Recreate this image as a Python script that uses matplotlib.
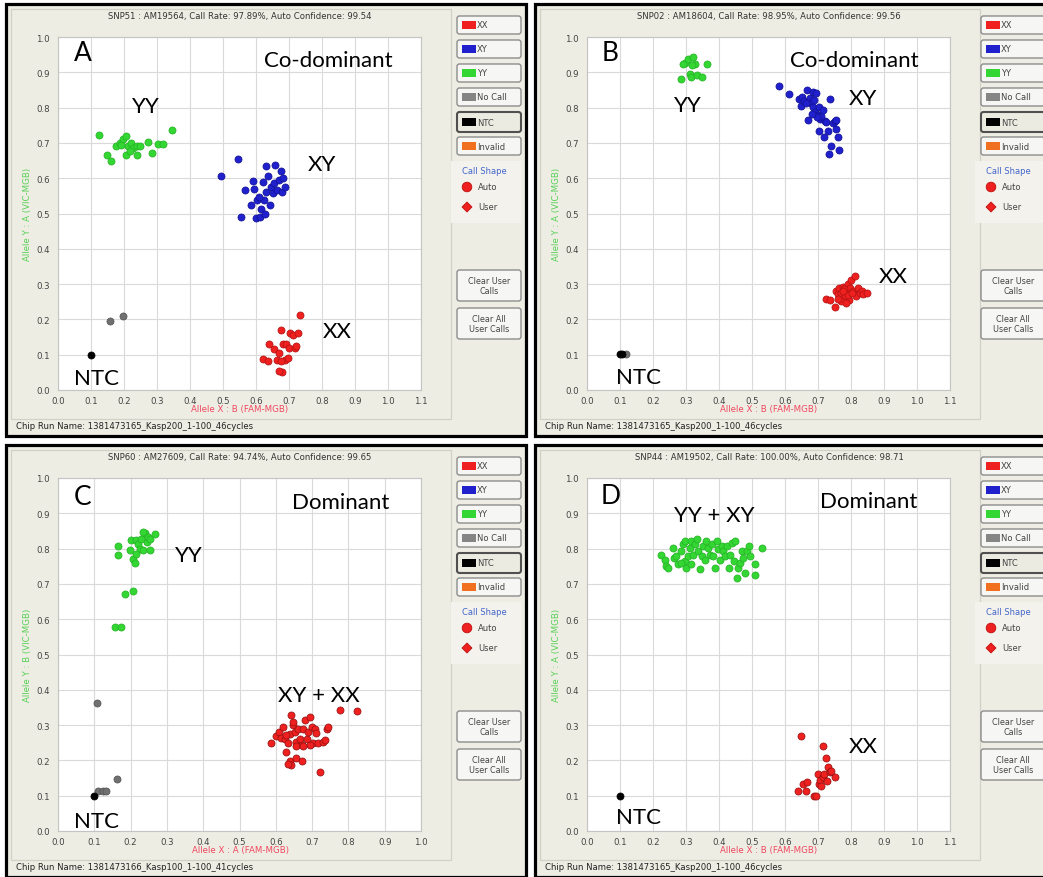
import matplotlib
matplotlib.use("Agg")
import matplotlib.pyplot as plt
from matplotlib.patches import Rectangle, FancyBboxPatch, Circle, Polygon
import numpy as np

# ---------------- data ----------------
# Panel A  (SNP51)
A_YY_X = [0.123, 0.149, 0.161, 0.177, 0.187, 0.197, 0.207, 0.212, 0.222, 0.228, 0.238,
          0.238, 0.207, 0.248, 0.273, 0.286, 0.304, 0.319, 0.345, 0.217, 0.192]
A_YY_Y = [0.721, 0.667, 0.650, 0.690, 0.700, 0.710, 0.719, 0.690, 0.700, 0.686, 0.690,
          0.667, 0.667, 0.690, 0.702, 0.671, 0.698, 0.698, 0.736, 0.676, 0.695]
A_XY_X = [0.493, 0.545, 0.556, 0.567, 0.585, 0.590, 0.595, 0.600, 0.602, 0.612, 0.615,
          0.620, 0.623, 0.629, 0.631, 0.636, 0.641, 0.646, 0.651, 0.656, 0.659, 0.663,
          0.671, 0.677, 0.680, 0.682, 0.687, 0.626, 0.610]
A_XY_Y = [0.607, 0.654, 0.490, 0.567, 0.524, 0.593, 0.569, 0.486, 0.538, 0.490, 0.514,
          0.590, 0.538, 0.635, 0.562, 0.605, 0.524, 0.576, 0.557, 0.586, 0.638, 0.567,
          0.595, 0.619, 0.562, 0.600, 0.576, 0.500, 0.548]
A_XX_X = [0.620, 0.636, 0.638, 0.656, 0.663, 0.669, 0.677, 0.680, 0.682, 0.687, 0.690,
          0.697, 0.700, 0.702, 0.712, 0.717, 0.722, 0.728, 0.733, 0.677, 0.671]
A_XX_Y = [0.089, 0.083, 0.130, 0.117, 0.086, 0.105, 0.171, 0.052, 0.130, 0.086, 0.129,
          0.092, 0.119, 0.162, 0.157, 0.119, 0.124, 0.162, 0.212, 0.081, 0.054]
A_NC_X = [0.159, 0.197]
A_NC_Y = [0.195, 0.211]
A_NTC_X = [0.100]
A_NTC_Y = [0.100]

# Panel B  (SNP02)
B_YY_X = [0.284, 0.296, 0.306, 0.311, 0.316, 0.321, 0.327, 0.332, 0.347, 0.365, 0.291, 0.318]
B_YY_Y = [0.880, 0.926, 0.937, 0.896, 0.886, 0.943, 0.924, 0.893, 0.888, 0.923, 0.924, 0.920]
B_XY_X = [0.582, 0.612, 0.643, 0.648, 0.653, 0.658, 0.668, 0.671, 0.676, 0.679, 0.684,
          0.686, 0.689, 0.692, 0.694, 0.699, 0.702, 0.704, 0.706, 0.709, 0.714, 0.719,
          0.722, 0.724, 0.730, 0.735, 0.740, 0.745, 0.750, 0.755, 0.760, 0.765, 0.733,
          0.755, 0.696, 0.682, 0.663]
B_XY_Y = [0.861, 0.839, 0.823, 0.804, 0.831, 0.820, 0.850, 0.766, 0.826, 0.812, 0.845,
          0.802, 0.821, 0.788, 0.842, 0.779, 0.801, 0.734, 0.769, 0.776, 0.793, 0.717,
          0.763, 0.760, 0.734, 0.823, 0.690, 0.757, 0.763, 0.738, 0.717, 0.681, 0.668,
          0.765, 0.774, 0.783, 0.812]
B_XX_X = [0.724, 0.735, 0.750, 0.755, 0.760, 0.765, 0.770, 0.776, 0.781, 0.786, 0.791,
          0.794, 0.798, 0.801, 0.806, 0.811, 0.816, 0.821, 0.827, 0.832, 0.837, 0.847,
          0.770, 0.784, 0.760, 0.780, 0.790, 0.803, 0.775]
B_XX_Y = [0.259, 0.254, 0.235, 0.280, 0.271, 0.288, 0.275, 0.292, 0.266, 0.280, 0.299,
          0.256, 0.288, 0.313, 0.280, 0.323, 0.266, 0.290, 0.275, 0.280, 0.273, 0.275,
          0.252, 0.247, 0.257, 0.285, 0.270, 0.276, 0.281]
B_NC_X = [0.117]
B_NC_Y = [0.102]
B_NTC_X = [0.100, 0.107]
B_NTC_Y = [0.102, 0.102]

# Panel C  (SNP60)
C_YY_X = [0.156, 0.174, 0.184, 0.207, 0.165, 0.165, 0.198, 0.202, 0.207, 0.212, 0.216,
          0.221, 0.225, 0.230, 0.235, 0.239, 0.244, 0.249, 0.253, 0.253, 0.267, 0.235, 0.216]
C_YY_Y = [0.578, 0.578, 0.671, 0.679, 0.807, 0.781, 0.795, 0.824, 0.771, 0.759, 0.824,
          0.814, 0.800, 0.826, 0.795, 0.843, 0.819, 0.833, 0.826, 0.795, 0.841, 0.848, 0.786]
C_XX_X = [0.587, 0.601, 0.610, 0.615, 0.620, 0.624, 0.629, 0.634, 0.638, 0.640, 0.643,
          0.643, 0.647, 0.652, 0.655, 0.657, 0.661, 0.666, 0.671, 0.675, 0.680, 0.685,
          0.689, 0.694, 0.699, 0.703, 0.708, 0.712, 0.717, 0.722, 0.731, 0.736, 0.740,
          0.745, 0.777, 0.824, 0.634, 0.673, 0.657, 0.694, 0.629, 0.647, 0.675]
C_XX_Y = [0.248, 0.270, 0.281, 0.264, 0.295, 0.262, 0.224, 0.248, 0.276, 0.197, 0.186,
          0.329, 0.300, 0.281, 0.252, 0.207, 0.290, 0.262, 0.243, 0.290, 0.314, 0.262,
          0.281, 0.324, 0.295, 0.248, 0.289, 0.279, 0.248, 0.167, 0.252, 0.257, 0.290,
          0.295, 0.343, 0.340, 0.190, 0.198, 0.241, 0.243, 0.271, 0.310, 0.241]
C_NC_X = [0.108, 0.111, 0.123, 0.133, 0.163]
C_NC_Y = [0.362, 0.114, 0.114, 0.114, 0.146]
C_NTC_X = [0.100]
C_NTC_Y = [0.100]

# Panel D  (SNP44)
D_YY_X = [0.224, 0.235, 0.240, 0.245, 0.260, 0.265, 0.270, 0.276, 0.284, 0.291, 0.296,
          0.298, 0.301, 0.306, 0.311, 0.316, 0.321, 0.327, 0.332, 0.337, 0.342, 0.347,
          0.352, 0.362, 0.367, 0.372, 0.378, 0.383, 0.388, 0.393, 0.398, 0.403, 0.408,
          0.413, 0.418, 0.423, 0.429, 0.434, 0.439, 0.444, 0.449, 0.454, 0.459, 0.464,
          0.469, 0.474, 0.480, 0.485, 0.490, 0.495, 0.508, 0.510, 0.529, 0.284, 0.316, 0.357]
D_YY_Y = [0.783, 0.769, 0.750, 0.745, 0.802, 0.774, 0.779, 0.755, 0.793, 0.812, 0.821,
          0.764, 0.745, 0.779, 0.801, 0.821, 0.783, 0.812, 0.826, 0.793, 0.741, 0.779,
          0.807, 0.821, 0.802, 0.783, 0.812, 0.779, 0.745, 0.821, 0.798, 0.769, 0.807,
          0.793, 0.779, 0.807, 0.745, 0.783, 0.817, 0.764, 0.821, 0.717, 0.745, 0.760,
          0.793, 0.774, 0.731, 0.793, 0.807, 0.779, 0.726, 0.755, 0.801, 0.760, 0.755, 0.769]
D_XX_X = [0.648, 0.638, 0.655, 0.663, 0.668, 0.689, 0.694, 0.699, 0.702, 0.706, 0.709,
          0.714, 0.714, 0.719, 0.724, 0.727, 0.730, 0.735, 0.740, 0.750]
D_XX_Y = [0.269, 0.114, 0.133, 0.114, 0.140, 0.100, 0.098, 0.161, 0.133, 0.145, 0.128,
          0.240, 0.152, 0.161, 0.206, 0.142, 0.180, 0.166, 0.171, 0.152]
D_NTC_X = [0.100]
D_NTC_Y = [0.100]

TITLES = ["SNP51 : AM19564, Call Rate: 97.89%, Auto Confidence: 99.54",
          "SNP02 : AM18604, Call Rate: 98.95%, Auto Confidence: 99.56",
          "SNP60 : AM27609, Call Rate: 94.74%, Auto Confidence: 99.65",
          "SNP44 : AM19502, Call Rate: 100.00%, Auto Confidence: 98.71"]
CHIP_RUNS = ["Chip Run Name: 1381473165_Kasp200_1-100_46cycles",
             "Chip Run Name: 1381473165_Kasp200_1-100_46cycles",
             "Chip Run Name: 1381473166_Kasp100_1-100_41cycles",
             "Chip Run Name: 1381473165_Kasp200_1-100_46cycles"]
X_LABELS = ["Allele X : B (FAM-MGB)", "Allele X : B (FAM-MGB)",
            "Allele X : A (FAM-MGB)", "Allele X : B (FAM-MGB)"]
Y_LABELS = ["Allele Y : A (VIC-MGB)", "Allele Y : A (VIC-MGB)",
            "Allele Y : B (VIC-MGB)", "Allele Y : A (VIC-MGB)"]
LEGEND_ITEMS = ["XX", "XY", "YY", "No Call", "NTC", "Invalid"]

# ---------------- style ----------------
RED = "#EE2020"
BLUE = "#2020CC"
GREEN = "#33D633"
GRAY = "#707070"
ORANGE = "#F07020"
BEIGE = "#EEEDE3"
SWATCHES = [RED, BLUE, GREEN, "#858585", "#000000", ORANGE]
ANN_FONT = ["Lato", "DejaVu Sans"]
UI_FONT = ["DejaVu Sans"]
UI_SIZE = 6.0

W, H = 1043, 878
fig = plt.figure(figsize=(W / 100, H / 100), dpi=100, facecolor="white")

# pixel-space canvas behind the charts for the window chrome
bg = fig.add_axes([0, 0, 1, 1], zorder=-1)
bg.set_xlim(0, W)
bg.set_ylim(H, 0)
bg.axis("off")


def button(x, y, w, h, selected=False):
    fc = "#ECEBE1" if selected else "#F6F6F4"
    ec = "#505050" if selected else "#8C8C8C"
    lw = 1.5 if selected else 1.0
    bg.add_patch(FancyBboxPatch((x, y), w, h, boxstyle="round,pad=0,rounding_size=2.5",
                                fc=fc, ec=ec, lw=lw))


def chrome(ox, oy, bx, title, chip, xlab, ylab):
    # window frame
    bg.add_patch(Rectangle((ox + 6, oy + 5), 520, 432, fc=BEIGE, ec="black", lw=2.3))
    bg.add_patch(Rectangle((ox + 11, oy + 10), 440, 410, fc="none", ec="#D2D1C6", lw=0.9))
    bg.text(ox + 240, oy + 17, title, ha="center", va="center", fontsize=6.1,
            color="#333333", family=UI_FONT)
    bg.text(ox + 16, oy + 427, chip, ha="left", va="center", fontsize=6.1,
            color="#222222", family=UI_FONT)
    bg.text(ox + 240, oy + 410, xlab, ha="center", va="center", fontsize=6.2,
            color="#F04860", family=UI_FONT)
    bg.text(ox + 28, oy + 214, ylab, ha="center", va="center", rotation=90,
            fontsize=6.2, color="#55D055", family=UI_FONT)

    # genotype legend buttons
    tops = [17, 41, 65, 89, 113, 138]
    for lab, col, t in zip(LEGEND_ITEMS, SWATCHES, tops):
        sel = lab == "NTC"
        h = 20 if sel else 18
        button(bx, oy + t, 64, h, selected=sel)
        bg.add_patch(Rectangle((bx + 5, oy + t + h / 2 - 4), 14, 8, fc=col, ec="none"))
        bg.text(bx + 20, oy + t + h / 2, lab, ha="left", va="center", fontsize=UI_SIZE,
                color="#444444", family=UI_FONT)

    # call shape box
    bg.add_patch(Rectangle((bx - 6, oy + 162), 70, 62, fc="#F3F2EC", ec="none"))
    bg.text(bx + 5, oy + 172, "Call Shape", ha="left", va="center", fontsize=UI_SIZE,
            color="#4466CC", family=UI_FONT)
    bg.add_patch(Circle((bx + 10, oy + 188), 4.8, fc=RED, ec="#C01010", lw=0.6))
    bg.text(bx + 21, oy + 188, "Auto", ha="left", va="center", fontsize=UI_SIZE,
            color="#444444", family=UI_FONT)
    cx, cy = bx + 10, oy + 208
    bg.add_patch(Polygon([[cx - 5, cy], [cx, cy - 5], [cx + 5, cy], [cx, cy + 5]],
                         closed=True, fc=RED, ec="#C01010", lw=0.6))
    bg.text(bx + 21, oy + 208, "User", ha="left", va="center", fontsize=UI_SIZE,
            color="#444444", family=UI_FONT)

    # clear buttons
    button(bx, oy + 271, 64, 31)
    bg.text(bx + 32, oy + 286.5, "Clear User\nCalls", ha="center", va="center",
            fontsize=5.8, color="#444444", family=UI_FONT, linespacing=1.1)
    button(bx, oy + 309, 64, 31)
    bg.text(bx + 32, oy + 324.5, "Clear All\nUser Calls", ha="center", va="center",
            fontsize=5.8, color="#444444", family=UI_FONT, linespacing=1.1)


def chart(x0, y0, x1, y1, xmax):
    ax = fig.add_axes([x0 / W, 1 - y1 / H, (x1 - x0) / W, (y1 - y0) / H], zorder=1)
    ax.set_facecolor("white")
    ax.set_xlim(0, xmax)
    ax.set_ylim(0, 1.0)
    xt = np.round(np.arange(0, xmax + 1e-6, 0.1), 1)
    yt = np.round(np.arange(0, 1.0 + 1e-6, 0.1), 1)
    ax.set_xticks(xt)
    ax.set_xticklabels([f"{v:.1f}" for v in xt])
    ax.set_yticks(yt)
    ax.set_yticklabels([f"{v:.1f}" for v in yt])
    ax.grid(True, color="#DADADA", lw=0.8)
    ax.set_axisbelow(True)
    for s in ax.spines.values():
        s.set_color("#C4C4C4")
        s.set_linewidth(0.8)
    ax.tick_params(axis="both", length=0, labelsize=6.2, colors="#444444")
    ax.tick_params(axis="x", pad=4)
    ax.tick_params(axis="y", pad=6)
    for lab in ax.get_xticklabels() + ax.get_yticklabels():
        lab.set_family(UI_FONT)
    return ax


def dots(ax, xs, ys, color, edge):
    ax.scatter(xs, ys, s=26, c=color, edgecolors=edge, linewidths=0.5, zorder=3)


def note(ax, x, y, s, size=16):
    ax.text(x, y, s, ha="left", va="baseline", fontsize=size, color="black",
            family=ANN_FONT, zorder=4)


# ---------------- panel A ----------------
chrome(0, 0, 457, TITLES[0], CHIP_RUNS[0], X_LABELS[0], Y_LABELS[0])
axA = chart(58, 38, 421, 391, 1.1)
dots(axA, A_YY_X, A_YY_Y, GREEN, "#22B022")
dots(axA, A_XY_X, A_XY_Y, BLUE, "#101090")
dots(axA, A_XX_X, A_XX_Y, RED, "#B01010")
dots(axA, A_NC_X, A_NC_Y, GRAY, "#505050")
dots(axA, A_NTC_X, A_NTC_Y, "black", "black")
note(axA, 0.048, 0.935, "A", 19)
note(axA, 0.623, 0.919, "Co-dominant")
note(axA, 0.224, 0.787, "YY")
note(axA, 0.756, 0.624, "XY")
note(axA, 0.803, 0.150, "XX")
note(axA, 0.048, 0.016, "NTC")

# ---------------- panel B ----------------
chrome(529, 0, 981, TITLES[1], CHIP_RUNS[1], X_LABELS[1], Y_LABELS[1])
axB = chart(587, 38, 950, 391, 1.1)
dots(axB, B_YY_X, B_YY_Y, GREEN, "#22B022")
dots(axB, B_XY_X, B_XY_Y, BLUE, "#101090")
dots(axB, B_XX_X, B_XX_Y, RED, "#B01010")
dots(axB, B_NC_X, B_NC_Y, GRAY, "#505050")
dots(axB, B_NTC_X, B_NTC_Y, "black", "black")
note(axB, 0.045, 0.935, "B", 19)
note(axB, 0.615, 0.919, "Co-dominant")
note(axB, 0.264, 0.791, "YY")
note(axB, 0.792, 0.810, "XY")
note(axB, 0.883, 0.305, "XX")
note(axB, 0.087, 0.020, "NTC")

# ---------------- panel C ----------------
chrome(0, 441, 457, TITLES[2], CHIP_RUNS[2], X_LABELS[2], Y_LABELS[2])
axC = chart(58, 479, 421, 832, 1.0)
dots(axC, C_YY_X, C_YY_Y, GREEN, "#22B022")
dots(axC, C_XX_X, C_XX_Y, RED, "#901010")
dots(axC, C_NC_X, C_NC_Y, GRAY, "#505050")
dots(axC, C_NTC_X, C_NTC_Y, "black", "black")
note(axC, 0.043, 0.927, "C", 19)
note(axC, 0.646, 0.914, "Dominant")
note(axC, 0.322, 0.764, "YY")
note(axC, 0.606, 0.368, "XY + XX")
note(axC, 0.043, 0.012, "NTC")

# ---------------- panel D ----------------
chrome(529, 441, 981, TITLES[3], CHIP_RUNS[3], X_LABELS[3], Y_LABELS[3])
axD = chart(587, 479, 950, 832, 1.1)
dots(axD, D_YY_X, D_YY_Y, GREEN, "#22B022")
dots(axD, D_XX_X, D_XX_Y, RED, "#901010")
dots(axD, D_NTC_X, D_NTC_Y, "black", "black")
note(axD, 0.041, 0.929, "D", 19)
note(axD, 0.706, 0.917, "Dominant")
note(axD, 0.264, 0.879, "YY + XY")
note(axD, 0.792, 0.223, "XX")
note(axD, 0.087, 0.022, "NTC")

fig.savefig("out.png", dpi=100, facecolor="white")
